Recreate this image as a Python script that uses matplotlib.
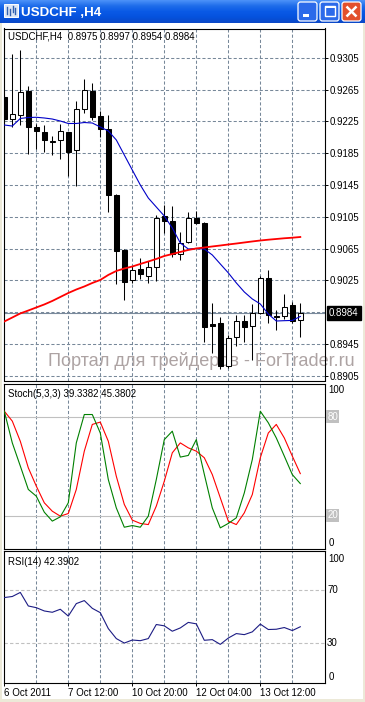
import matplotlib
matplotlib.use('Agg')
import matplotlib.pyplot as plt
import numpy as np
from matplotlib.patches import Rectangle, FancyBboxPatch
from matplotlib import transforms as mtrans

plt.rcParams['font.family'] = ['Liberation Sans', 'DejaVu Sans']

# ---------------- data ----------------
symbol = "USDCHF"
timeframe = "H4"
opens = [0.9256, 0.9228, 0.9233, 0.9263, 0.9218, 0.9211, 0.9199, 0.9201, 0.9211, 0.9189,
         0.9241, 0.9263, 0.9232, 0.9215, 0.9132, 0.9063, 0.9025, 0.9039, 0.9031, 0.9042,
         0.9106, 0.9100, 0.9058, 0.9073, 0.9103, 0.9097, 0.8970, 0.8972, 0.8918, 0.8954,
         0.8974, 0.8968, 0.8984, 0.9028, 0.8980, 0.8980, 0.8994, 0.8975]
highs = [0.9259, 0.9310, 0.9315, 0.9269, 0.9222, 0.9221, 0.9206, 0.9222, 0.9212, 0.9251,
         0.9278, 0.9273, 0.9238, 0.9233, 0.9134, 0.9065, 0.9043, 0.9053, 0.9050, 0.9107,
         0.9120, 0.9119, 0.9086, 0.9111, 0.9112, 0.9099, 0.8996, 0.8979, 0.8956, 0.8982,
         0.8982, 0.8995, 0.9030, 0.9038, 0.8988, 0.9008, 0.8998, 0.8997]
lows = [0.9222, 0.9218, 0.9220, 0.9184, 0.9190, 0.9187, 0.9183, 0.9178, 0.9156, 0.9144,
        0.9235, 0.9227, 0.9205, 0.9111, 0.9020, 0.9000, 0.9022, 0.9027, 0.9022, 0.9024,
        0.9085, 0.9055, 0.9051, 0.9072, 0.9096, 0.8948, 0.8934, 0.8914, 0.8915, 0.8943,
        0.8948, 0.8925, 0.8983, 0.8972, 0.8963, 0.8977, 0.8972, 0.8954]
closes = [0.9228, 0.9234, 0.9262, 0.9218, 0.9213, 0.9201, 0.9200, 0.9213, 0.9187, 0.9240,
          0.9265, 0.9231, 0.9215, 0.9132, 0.9062, 0.9023, 0.9038, 0.9033, 0.9042, 0.9104,
          0.9100, 0.9058, 0.9072, 0.9104, 0.9097, 0.8967, 0.8968, 0.8918, 0.8952, 0.8974,
          0.8967, 0.8984, 0.9028, 0.8981, 0.8979, 0.8992, 0.8974, 0.8984]
ma_fast = [0.92204, 0.92191, 0.92286, 0.92298, 0.92301, 0.92292, 0.92279, 0.92254, 0.92223, 0.92223,
           0.92235, 0.92229, 0.92179, 0.92129, 0.92016, 0.91827, 0.91638, 0.91450, 0.91286, 0.91173,
           0.91060, 0.90909, 0.90721, 0.90645, 0.90652, 0.90645, 0.90570, 0.90457, 0.90345, 0.90219,
           0.90105, 0.90017, 0.89954, 0.89828, 0.89740, 0.89744, 0.89747, 0.89797]
ma_slow = [0.89734, 0.89784, 0.89835, 0.89872, 0.89910, 0.89948, 0.89992, 0.90042, 0.90092, 0.90136,
           0.90174, 0.90218, 0.90256, 0.90319, 0.90369, 0.90400, 0.90425, 0.90457, 0.90488, 0.90520,
           0.90557, 0.90582, 0.90608, 0.90633, 0.90652, 0.90664, 0.90677, 0.90689, 0.90702, 0.90714,
           0.90727, 0.90740, 0.90752, 0.90762, 0.90771, 0.90780, 0.90787, 0.90796]
stoch_main = [83.2, 64.0, 50.0, 35.8, 31.7, 22.0, 16.6, 19.2, 27.7, 64.0,
              81.2, 81.2, 70.0, 41.8, 24.6, 12.9, 13.9, 12.9, 19.6, 41.8,
              66.0, 71.1, 55.4, 56.4, 66.0, 45.0, 24.6, 12.5, 15.2, 18.6,
              33.7, 53.9, 83.2, 76.2, 67.0, 56.0, 44.8, 39.3382]
stoch_signal = [83.2, 77.2, 65.0, 48.9, 37.8, 27.7, 22.6, 19.6, 21.2, 35.8,
                59.0, 75.2, 76.6, 65.0, 43.8, 26.7, 17.2, 15.2, 14.5, 25.7,
                40.8, 58.0, 64.0, 61.0, 59.0, 55.0, 44.8, 30.7, 16.6, 14.5,
                21.6, 32.7, 55.0, 70.0, 75.2, 67.0, 56.0, 45.3802]
rsi_values = [64.6, 65.4, 68.5, 58.2, 56.9, 54.4, 53.4, 55.7, 50.5, 60.0,
              62.3, 56.4, 53.1, 41.0, 33.4, 30.0, 32.3, 31.8, 33.4, 44.1,
              43.1, 39.0, 41.5, 45.7, 44.6, 32.1, 32.6, 29.0, 33.8, 37.2,
              36.4, 38.5, 44.4, 40.3, 40.5, 41.8, 39.5, 42.3902]
price_levels = [0.9305, 0.9265, 0.9225, 0.9185, 0.9145, 0.9105, 0.9065, 0.9025, 0.8985, 0.8945, 0.8905]
time_label_bars = [0, 8, 16, 24, 32]
time_labels = ['6 Oct 2011', '7 Oct 12:00', '10 Oct 20:00', '12 Oct 04:00', '13 Oct 12:00']
grid_bars = [4, 8, 12, 16, 20, 24, 28, 32, 36]
stoch_levels = [80, 20]
rsi_levels = [70, 30]
stoch_params = "5,3,3"
rsi_period = 14
watermark = "Портал для трейдеров - ForTrader.ru"

# ---------------- layout ----------------
W, H = 365, 702
fig = plt.figure(figsize=(W / 100, H / 100), dpi=100)
fig.patch.set_facecolor('#ECE9D8')


def add_ax(x0, y0, x1, y1, z=1):
    return fig.add_axes([x0 / W, 1 - y1 / H, (x1 - x0) / W, (y1 - y0) / H], zorder=z)


bg = add_ax(0, 0, W, H, z=0)
bg.set_xlim(0, W)
bg.set_ylim(H, 0)
bg.axis('off')

# title bar gradient
stops = np.array([[0x4A, 0x90, 0xF8], [0x1E, 0x6C, 0xEA], [0x0A, 0x5A, 0xE6],
                  [0x05, 0x52, 0xDE], [0x0A, 0x48, 0xC8]]) / 255.0
pos = np.linspace(0, 1, len(stops))
rows = np.linspace(0, 1, 23)
grad = np.stack([np.interp(rows, pos, stops[:, k]) for k in range(3)], axis=1)
bg.imshow(grad[:, None, :], extent=[0, W, 23, 0], aspect='auto', zorder=1, interpolation='bilinear')
bg.add_patch(Rectangle((2, 23), 360.5, 676, fc='white', ec='none', zorder=1))
# app icon
bg.add_patch(Rectangle((3.5, 4), 14, 13, fc='#DCE6F5', ec='white', lw=0.7, zorder=2))
for xx, y0, y1 in [(6.5, 7, 14), (9.5, 9, 15), (12.5, 6, 12), (15, 8, 14)]:
    bg.plot([xx, xx], [y0, y1], color='#3060B0', lw=1.0, zorder=3)
bg.text(21, 16.5, f"{symbol} ,{timeframe}", color='white', fontsize=9.6, fontweight='bold',
        va='baseline', ha='left', zorder=3)
# window buttons
for bx, fc in [(298, '#2C6AEA'), (320, '#2C6AEA'), (342, '#E2502C')]:
    bg.add_patch(FancyBboxPatch((bx, 2), 19, 19, boxstyle='round,pad=0,rounding_size=2.5',
                                fc=fc, ec='white', lw=0.9, zorder=3))
bg.add_patch(Rectangle((302.5, 14), 6, 2.6, fc='white', ec='none', zorder=4))
bg.add_patch(Rectangle((324.5, 6), 10.5, 10, fc='none', ec='white', lw=1.0, zorder=4))
bg.add_patch(Rectangle((324.5, 6), 10.5, 2.2, fc='white', ec='none', zorder=4))
bg.plot([346.5, 356.5], [6.5, 16.5], color='white', lw=1.8, zorder=4, solid_capstyle='butt')
bg.plot([356.5, 346.5], [6.5, 16.5], color='white', lw=1.8, zorder=4, solid_capstyle='butt')

idx = np.arange(len(closes))
o = np.array(opens); h = np.array(highs); l = np.array(lows); c = np.array(closes)
XMIN, XMAX = -0.1, 40.025
GRID_C = '#778899'
DASH = (0, (3, 2))
FS = 7


def style_panel(ax):
    ax.set_xlim(XMIN, XMAX)
    ax.set_facecolor('white')
    for s in ax.spines.values():
        s.set_color('black')
        s.set_linewidth(0.8)
    for gb in grid_bars:
        ax.axvline(gb, color=GRID_C, lw=0.75, ls=DASH, zorder=1)
    ax.tick_params(axis='x', bottom=False, labelbottom=False)


def right_text(ax, yval, s, va='center', dx=4.0, dy=0.0, **kw):
    tr = mtrans.offset_copy(mtrans.blended_transform_factory(ax.transAxes, ax.transData),
                            fig=fig, x=dx, y=dy, units='dots')
    return ax.text(1.0, yval, s, transform=tr, ha='left', va=va, fontsize=FS,
                   clip_on=False, **kw)


# ---------------- main price panel ----------------
ax = add_ax(3.5, 28.5, 324.5, 380.5, z=2)
style_panel(ax)
ax.set_ylim(0.88992, 0.93417)
for lv in price_levels:
    ax.axhline(lv, color=GRID_C, lw=0.75, ls=DASH, zorder=1)
last = c[-1]
shown = [lv for lv in price_levels if abs(lv - last) > 0.0003]
ax.yaxis.tick_right()
ax.set_yticks(shown)
ax.yaxis.set_major_formatter(matplotlib.ticker.FormatStrFormatter('%.4f'))
ax.tick_params(axis='y', length=2.4, width=0.7, pad=1.2, labelsize=FS, colors='black')
ax.axhline(last, color='#7A8A9C', lw=0.8, zorder=2)

up = c >= o
ax.vlines(idx, l, h, color='black', lw=0.75, zorder=3)
ax.bar(idx, np.where(np.abs(c - o) < 1e-9, 1e-6, c - o), bottom=o, width=0.58,
       color=np.where(up, 'white', 'black'), edgecolor='black', linewidth=0.75, zorder=4)
ax.plot(idx, ma_fast, color='#0000C8', lw=0.8, zorder=5)
ax.plot(idx, ma_slow, color='#FF0000', lw=1.3, zorder=5)

right_text(ax, last, f"{last:.4f}", color='white', dx=4.3,
           bbox=dict(boxstyle='square,pad=0.22', fc='black', ec='black'))
ax.text(7.7, 39.3, f"{symbol},{timeframe}  {o[-1]:.4f} {h[-1]:.4f} {l[-1]:.4f} {c[-1]:.4f}",
        transform=bg.transData, fontsize=FS, va='baseline', ha='left', color='black', zorder=6)

wm = ax.text(47.7, 366.0, watermark, transform=bg.transData, fontsize=12, color='#ADA3A3',
             ha='left', va='baseline', clip_on=False, zorder=2)
renderer = fig.canvas.get_renderer()
wbb = wm.get_window_extent(renderer)
wm.set_fontsize(12 * 309.0 / wbb.width)

# ---------------- stochastic panel ----------------
ax_s = add_ax(3.5, 383.5, 324.5, 548.5, z=2)
style_panel(ax_s)
ax_s.set_ylim(0, 100)
ax_s.set_yticks([])
for lv in stoch_levels:
    ax_s.axhline(lv, color='#C0C0C0', lw=0.8, zorder=1.5)
    right_text(ax_s, lv, str(lv), color='white', dx=2.8,
               bbox=dict(boxstyle='square,pad=0.12', fc='#C0C0C0', ec='none'))
ax_s.plot(idx, stoch_main, color='#008000', lw=0.8, zorder=4)
ax_s.plot(idx, stoch_signal, color='#FF0000', lw=0.8, zorder=3)
right_text(ax_s, 100, "100", va='top', dx=4.0, dy=-1.8)
right_text(ax_s, 0, "0", va='bottom', dx=4.0, dy=1.0)
ax_s.text(7.7, 397.2, f"Stoch({stoch_params}) {stoch_main[-1]:.4f} {stoch_signal[-1]:.4f}",
          transform=bg.transData, fontsize=FS, va='baseline', ha='left', zorder=6)

# ---------------- RSI panel ----------------
ax_r = add_ax(3.5, 551, 324.5, 682.5, z=2)
style_panel(ax_r)
ax_r.set_ylim(0, 100)
ax_r.set_yticks([])
for lv in rsi_levels:
    ax_r.axhline(lv, color='#C0C0C0', lw=0.8, ls=DASH, zorder=1.5)
    right_text(ax_r, lv, str(lv), dx=2.5)
right_text(ax_r, 100, "100", va='top', dx=4.0, dy=-2.5)
right_text(ax_r, 0, "0", va='bottom', dx=4.0, dy=0.5)
ax_r.plot(idx, rsi_values, color='#1C1C84', lw=0.8, zorder=3)
ax_r.text(7.7, 565.0, f"RSI({rsi_period}) {rsi_values[-1]:.4f}",
          transform=bg.transData, fontsize=FS, va='baseline', ha='left', zorder=6)
ax_r.set_xticks(time_label_bars)
ax_r.set_xticklabels(time_labels, ha='left')
ax_r.tick_params(axis='x', bottom=True, labelbottom=True, length=2.4, width=0.7, pad=1.5,
                 labelsize=FS)

fig.savefig('out.png', dpi=100, facecolor=fig.get_facecolor())
